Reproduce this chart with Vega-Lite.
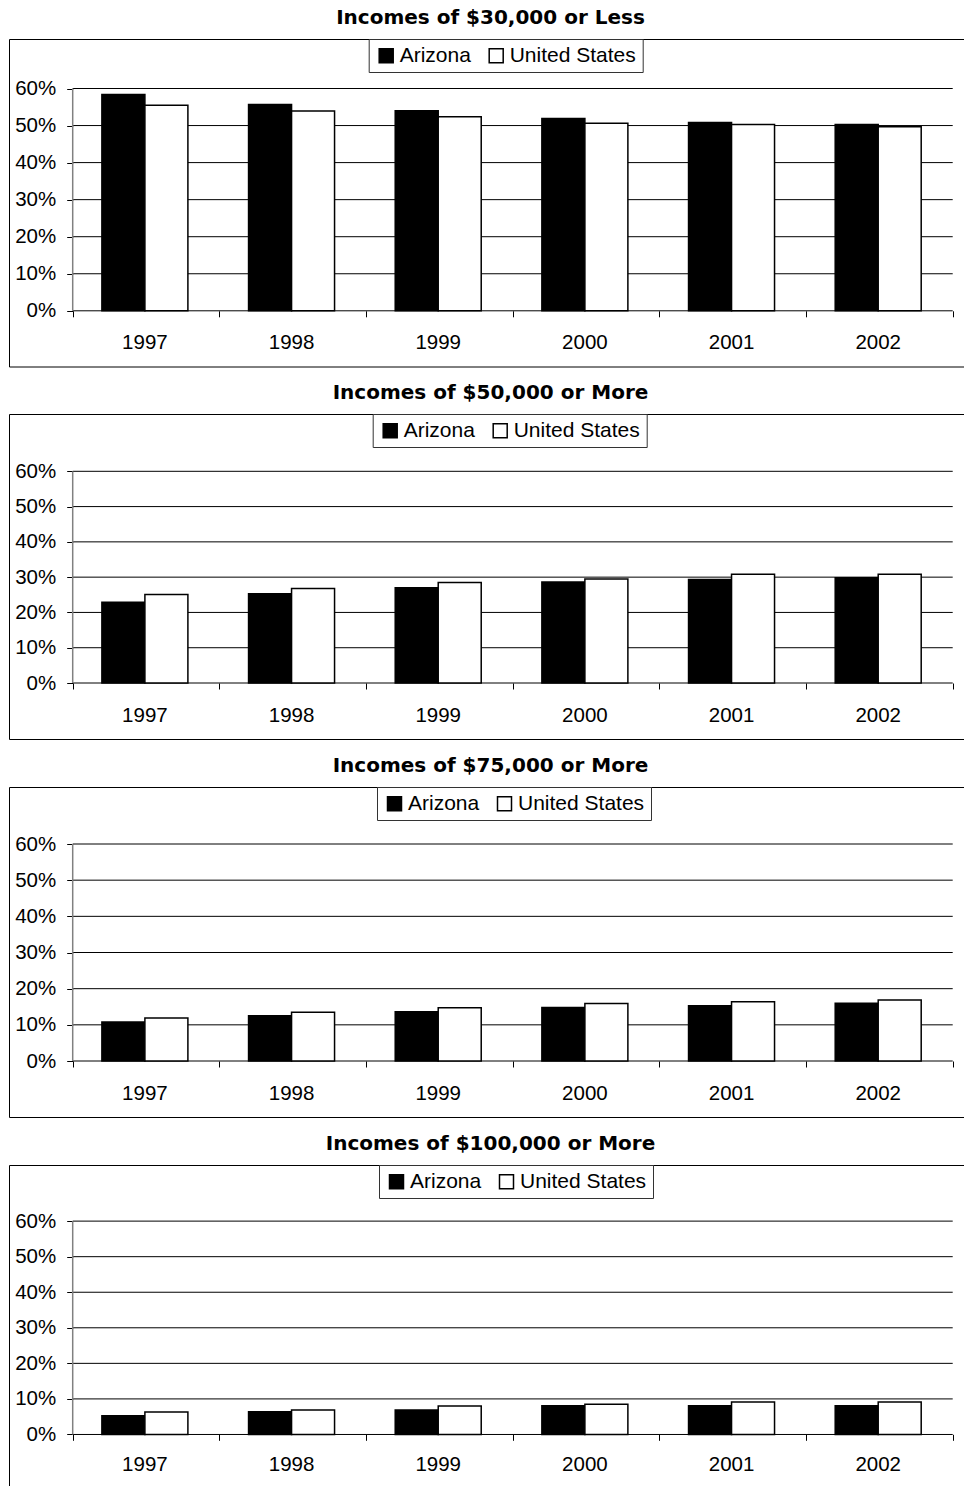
{
  "$schema": "https://vega.github.io/schema/vega-lite/v6.json",
  "padding": {"left": 8, "top": 7, "right": 0, "bottom": 0},
  "background": "white",
  "spacing": 15,
  "datasets": {
    "incomes": [
      {"panel": 1, "year": "1997", "series": "Arizona", "value": 0.584},
      {"panel": 1, "year": "1998", "series": "Arizona", "value": 0.557},
      {"panel": 1, "year": "1999", "series": "Arizona", "value": 0.540},
      {"panel": 1, "year": "2000", "series": "Arizona", "value": 0.519},
      {"panel": 1, "year": "2001", "series": "Arizona", "value": 0.508},
      {"panel": 1, "year": "2002", "series": "Arizona", "value": 0.503},
      {"panel": 1, "year": "1997", "series": "United States", "value": 0.555},
      {"panel": 1, "year": "1998", "series": "United States", "value": 0.539},
      {"panel": 1, "year": "1999", "series": "United States", "value": 0.524},
      {"panel": 1, "year": "2000", "series": "United States", "value": 0.506},
      {"panel": 1, "year": "2001", "series": "United States", "value": 0.503},
      {"panel": 1, "year": "2002", "series": "United States", "value": 0.497},
      {"panel": 2, "year": "1997", "series": "Arizona", "value": 0.229},
      {"panel": 2, "year": "1998", "series": "Arizona", "value": 0.253},
      {"panel": 2, "year": "1999", "series": "Arizona", "value": 0.270},
      {"panel": 2, "year": "2000", "series": "Arizona", "value": 0.286},
      {"panel": 2, "year": "2001", "series": "Arizona", "value": 0.293},
      {"panel": 2, "year": "2002", "series": "Arizona", "value": 0.298},
      {"panel": 2, "year": "1997", "series": "United States", "value": 0.251},
      {"panel": 2, "year": "1998", "series": "United States", "value": 0.268},
      {"panel": 2, "year": "1999", "series": "United States", "value": 0.285},
      {"panel": 2, "year": "2000", "series": "United States", "value": 0.295},
      {"panel": 2, "year": "2001", "series": "United States", "value": 0.308},
      {"panel": 2, "year": "2002", "series": "United States", "value": 0.308},
      {"panel": 3, "year": "1997", "series": "Arizona", "value": 0.108},
      {"panel": 3, "year": "1998", "series": "Arizona", "value": 0.125},
      {"panel": 3, "year": "1999", "series": "Arizona", "value": 0.136},
      {"panel": 3, "year": "2000", "series": "Arizona", "value": 0.148},
      {"panel": 3, "year": "2001", "series": "Arizona", "value": 0.153},
      {"panel": 3, "year": "2002", "series": "Arizona", "value": 0.160},
      {"panel": 3, "year": "1997", "series": "United States", "value": 0.119},
      {"panel": 3, "year": "1998", "series": "United States", "value": 0.135},
      {"panel": 3, "year": "1999", "series": "United States", "value": 0.147},
      {"panel": 3, "year": "2000", "series": "United States", "value": 0.159},
      {"panel": 3, "year": "2001", "series": "United States", "value": 0.164},
      {"panel": 3, "year": "2002", "series": "United States", "value": 0.169},
      {"panel": 4, "year": "1997", "series": "Arizona", "value": 0.053},
      {"panel": 4, "year": "1998", "series": "Arizona", "value": 0.064},
      {"panel": 4, "year": "1999", "series": "Arizona", "value": 0.069},
      {"panel": 4, "year": "2000", "series": "Arizona", "value": 0.081},
      {"panel": 4, "year": "2001", "series": "Arizona", "value": 0.081},
      {"panel": 4, "year": "2002", "series": "Arizona", "value": 0.081},
      {"panel": 4, "year": "1997", "series": "United States", "value": 0.063},
      {"panel": 4, "year": "1998", "series": "United States", "value": 0.069},
      {"panel": 4, "year": "1999", "series": "United States", "value": 0.080},
      {"panel": 4, "year": "2000", "series": "United States", "value": 0.085},
      {"panel": 4, "year": "2001", "series": "United States", "value": 0.091},
      {"panel": 4, "year": "2002", "series": "United States", "value": 0.091}
    ],
    "grid": [{"v": 0}, {"v": 0.1}, {"v": 0.2}, {"v": 0.3}, {"v": 0.4}, {"v": 0.5}, {"v": 0.6}]
  },
  "vconcat": [
    {
      "title": {"text": "Incomes of $30,000 or Less"},
      "width": 955,
      "height": 327.5,
      "layer": [
        {
          "data": {"name": "grid"},
          "mark": {"type": "rule", "color": "black", "strokeWidth": 1},
          "encoding": {
            "y": {"field": "v", "type": "quantitative", "scale": {"domain": [-0.1503, 0.7336], "nice": false, "zero": false}, "axis": {"orient": "left", "offset": -63.7, "values": [0, 0.1, 0.2, 0.3, 0.4, 0.5, 0.6], "format": ".0%", "domain": false, "grid": false, "ticks": true, "tickSize": 6, "tickColor": "black", "labelPadding": 11, "title": null}},
            "x": {"datum": 0, "type": "quantitative", "scale": {"domain": [-0.4343, 6.077], "nice": false, "zero": false}, "axis": {"orient": "bottom", "offset": -55.7, "values": [0, 1, 2, 3, 4, 5, 6], "labels": false, "domain": false, "grid": false, "ticks": true, "tickSize": 6, "tickColor": "black", "title": null}},
            "x2": {"datum": 6}
          }
        },
        {
          "data": {"name": "incomes"},
          "transform": [{"filter": "datum.panel == 1"}],
          "mark": {"type": "bar", "stroke": "black", "strokeWidth": 1.5},
          "encoding": {
            "x": {"field": "year", "type": "nominal", "scale": {"paddingInner": 0.4136, "paddingOuter": 0.4626, "align": 0.6846}, "axis": {"orient": "bottom", "offset": -55.7, "domain": false, "ticks": false, "tickSize": 0, "labelPadding": 22, "labelAngle": 0, "title": null, "grid": false}},
            "xOffset": {"field": "series", "type": "nominal", "sort": ["Arizona", "United States"], "scale": {"paddingInner": 0, "paddingOuter": 0}},
            "y": {"field": "value", "type": "quantitative", "scale": {"domain": [-0.1503, 0.7336], "nice": false, "zero": false}, "axis": {"orient": "left", "offset": -63.7, "values": [0, 0.1, 0.2, 0.3, 0.4, 0.5, 0.6], "format": ".0%", "domain": false, "grid": false, "ticks": true, "tickSize": 6, "tickColor": "black", "labelPadding": 11, "title": null}},
            "fill": {"field": "series", "type": "nominal", "scale": {"domain": ["Arizona", "United States"], "range": ["black", "white"]}, "legend": {"orient": "none", "legendX": 359.7, "legendY": 0}}
          }
        },
        {
          "data": {"values": [{}]},
          "mark": {"type": "rule", "color": "#808080", "strokeWidth": 1.5},
          "encoding": {
            "x": {"datum": 0, "type": "quantitative", "scale": {"domain": [-0.4343, 6.077], "nice": false, "zero": false}, "axis": null},
            "y": {"datum": 0, "type": "quantitative", "axis": {"orient": "left", "offset": -63.7, "values": [0, 0.1, 0.2, 0.3, 0.4, 0.5, 0.6], "format": ".0%", "domain": false, "grid": false, "ticks": true, "tickSize": 6, "tickColor": "black", "labelPadding": 11, "title": null}},
            "y2": {"datum": 0.6}
          }
        }
      ],
      "resolve": {"scale": {"x": "independent"}, "axis": {"x": "independent"}}
    },
    {
      "title": {"text": "Incomes of $50,000 or More"},
      "width": 955,
      "height": 325,
      "layer": [
        {
          "data": {"name": "grid"},
          "mark": {"type": "rule", "color": "black", "strokeWidth": 1},
          "encoding": {
            "y": {"field": "v", "type": "quantitative", "scale": {"domain": [-0.1587, 0.7624], "nice": false, "zero": false}, "axis": {"orient": "left", "offset": -63.7, "values": [0, 0.1, 0.2, 0.3, 0.4, 0.5, 0.6], "format": ".0%", "domain": false, "grid": false, "ticks": true, "tickSize": 6, "tickColor": "black", "labelPadding": 11, "title": null}},
            "x": {"datum": 0, "type": "quantitative", "scale": {"domain": [-0.4343, 6.077], "nice": false, "zero": false}, "axis": {"orient": "bottom", "offset": -56, "values": [0, 1, 2, 3, 4, 5, 6], "labels": false, "domain": false, "grid": false, "ticks": true, "tickSize": 6, "tickColor": "black", "title": null}},
            "x2": {"datum": 6}
          }
        },
        {
          "data": {"name": "incomes"},
          "transform": [{"filter": "datum.panel == 2"}],
          "mark": {"type": "bar", "stroke": "black", "strokeWidth": 1.5},
          "encoding": {
            "x": {"field": "year", "type": "nominal", "scale": {"paddingInner": 0.4136, "paddingOuter": 0.4626, "align": 0.6846}, "axis": {"orient": "bottom", "offset": -56, "domain": false, "ticks": false, "tickSize": 0, "labelPadding": 22, "labelAngle": 0, "title": null, "grid": false}},
            "xOffset": {"field": "series", "type": "nominal", "sort": ["Arizona", "United States"], "scale": {"paddingInner": 0, "paddingOuter": 0}},
            "y": {"field": "value", "type": "quantitative", "scale": {"domain": [-0.1587, 0.7624], "nice": false, "zero": false}, "axis": {"orient": "left", "offset": -63.7, "values": [0, 0.1, 0.2, 0.3, 0.4, 0.5, 0.6], "format": ".0%", "domain": false, "grid": false, "ticks": true, "tickSize": 6, "tickColor": "black", "labelPadding": 11, "title": null}},
            "fill": {"field": "series", "type": "nominal", "scale": {"domain": ["Arizona", "United States"], "range": ["black", "white"]}, "legend": {"orient": "none", "legendX": 363.7, "legendY": 0}}
          }
        },
        {
          "data": {"values": [{}]},
          "mark": {"type": "rule", "color": "#808080", "strokeWidth": 1.5},
          "encoding": {
            "x": {"datum": 0, "type": "quantitative", "scale": {"domain": [-0.4343, 6.077], "nice": false, "zero": false}, "axis": null},
            "y": {"datum": 0, "type": "quantitative", "axis": {"orient": "left", "offset": -63.7, "values": [0, 0.1, 0.2, 0.3, 0.4, 0.5, 0.6], "format": ".0%", "domain": false, "grid": false, "ticks": true, "tickSize": 6, "tickColor": "black", "labelPadding": 11, "title": null}},
            "y2": {"datum": 0.6}
          }
        }
      ],
      "resolve": {"scale": {"x": "independent"}, "axis": {"x": "independent"}}
    },
    {
      "title": {"text": "Incomes of $75,000 or More"},
      "width": 955,
      "height": 330,
      "layer": [
        {
          "data": {"name": "grid"},
          "mark": {"type": "rule", "color": "black", "strokeWidth": 1},
          "encoding": {
            "y": {"field": "v", "type": "quantitative", "scale": {"domain": [-0.1548, 0.7576], "nice": false, "zero": false}, "axis": {"orient": "left", "offset": -63.7, "values": [0, 0.1, 0.2, 0.3, 0.4, 0.5, 0.6], "format": ".0%", "domain": false, "grid": false, "ticks": true, "tickSize": 6, "tickColor": "black", "labelPadding": 11, "title": null}},
            "x": {"datum": 0, "type": "quantitative", "scale": {"domain": [-0.4343, 6.077], "nice": false, "zero": false}, "axis": {"orient": "bottom", "offset": -56, "values": [0, 1, 2, 3, 4, 5, 6], "labels": false, "domain": false, "grid": false, "ticks": true, "tickSize": 6, "tickColor": "black", "title": null}},
            "x2": {"datum": 6}
          }
        },
        {
          "data": {"name": "incomes"},
          "transform": [{"filter": "datum.panel == 3"}],
          "mark": {"type": "bar", "stroke": "black", "strokeWidth": 1.5},
          "encoding": {
            "x": {"field": "year", "type": "nominal", "scale": {"paddingInner": 0.4136, "paddingOuter": 0.4626, "align": 0.6846}, "axis": {"orient": "bottom", "offset": -56, "domain": false, "ticks": false, "tickSize": 0, "labelPadding": 22, "labelAngle": 0, "title": null, "grid": false}},
            "xOffset": {"field": "series", "type": "nominal", "sort": ["Arizona", "United States"], "scale": {"paddingInner": 0, "paddingOuter": 0}},
            "y": {"field": "value", "type": "quantitative", "scale": {"domain": [-0.1548, 0.7576], "nice": false, "zero": false}, "axis": {"orient": "left", "offset": -63.7, "values": [0, 0.1, 0.2, 0.3, 0.4, 0.5, 0.6], "format": ".0%", "domain": false, "grid": false, "ticks": true, "tickSize": 6, "tickColor": "black", "labelPadding": 11, "title": null}},
            "fill": {"field": "series", "type": "nominal", "scale": {"domain": ["Arizona", "United States"], "range": ["black", "white"]}, "legend": {"orient": "none", "legendX": 368, "legendY": 0}}
          }
        },
        {
          "data": {"values": [{}]},
          "mark": {"type": "rule", "color": "#808080", "strokeWidth": 1.5},
          "encoding": {
            "x": {"datum": 0, "type": "quantitative", "scale": {"domain": [-0.4343, 6.077], "nice": false, "zero": false}, "axis": null},
            "y": {"datum": 0, "type": "quantitative", "axis": {"orient": "left", "offset": -63.7, "values": [0, 0.1, 0.2, 0.3, 0.4, 0.5, 0.6], "format": ".0%", "domain": false, "grid": false, "ticks": true, "tickSize": 6, "tickColor": "black", "labelPadding": 11, "title": null}},
            "y2": {"datum": 0.6}
          }
        }
      ],
      "resolve": {"scale": {"x": "independent"}, "axis": {"x": "independent"}}
    },
    {
      "title": {"text": "Incomes of $100,000 or More"},
      "width": 955,
      "height": 322,
      "layer": [
        {
          "data": {"name": "grid"},
          "mark": {"type": "rule", "color": "black", "strokeWidth": 1},
          "encoding": {
            "y": {"field": "v", "type": "quantitative", "scale": {"domain": [-0.1477, 0.7578], "nice": false, "zero": false}, "axis": {"orient": "left", "offset": -63.7, "values": [0, 0.1, 0.2, 0.3, 0.4, 0.5, 0.6], "format": ".0%", "domain": false, "grid": false, "ticks": true, "tickSize": 6, "tickColor": "black", "labelPadding": 11, "title": null}},
            "x": {"datum": 0, "type": "quantitative", "scale": {"domain": [-0.4343, 6.077], "nice": false, "zero": false}, "axis": {"orient": "bottom", "offset": -52.7, "values": [0, 1, 2, 3, 4, 5, 6], "labels": false, "domain": false, "grid": false, "ticks": true, "tickSize": 6, "tickColor": "black", "title": null}},
            "x2": {"datum": 6}
          }
        },
        {
          "data": {"name": "incomes"},
          "transform": [{"filter": "datum.panel == 4"}],
          "mark": {"type": "bar", "stroke": "black", "strokeWidth": 1.5},
          "encoding": {
            "x": {"field": "year", "type": "nominal", "scale": {"paddingInner": 0.4136, "paddingOuter": 0.4626, "align": 0.6846}, "axis": {"orient": "bottom", "offset": -52.7, "domain": false, "ticks": false, "tickSize": 0, "labelPadding": 20, "labelAngle": 0, "title": null, "grid": false}},
            "xOffset": {"field": "series", "type": "nominal", "sort": ["Arizona", "United States"], "scale": {"paddingInner": 0, "paddingOuter": 0}},
            "y": {"field": "value", "type": "quantitative", "scale": {"domain": [-0.1477, 0.7578], "nice": false, "zero": false}, "axis": {"orient": "left", "offset": -63.7, "values": [0, 0.1, 0.2, 0.3, 0.4, 0.5, 0.6], "format": ".0%", "domain": false, "grid": false, "ticks": true, "tickSize": 6, "tickColor": "black", "labelPadding": 11, "title": null}},
            "fill": {"field": "series", "type": "nominal", "scale": {"domain": ["Arizona", "United States"], "range": ["black", "white"]}, "legend": {"orient": "none", "legendX": 370, "legendY": 0}}
          }
        },
        {
          "data": {"values": [{}]},
          "mark": {"type": "rule", "color": "#808080", "strokeWidth": 1.5},
          "encoding": {
            "x": {"datum": 0, "type": "quantitative", "scale": {"domain": [-0.4343, 6.077], "nice": false, "zero": false}, "axis": null},
            "y": {"datum": 0, "type": "quantitative", "axis": {"orient": "left", "offset": -63.7, "values": [0, 0.1, 0.2, 0.3, 0.4, 0.5, 0.6], "format": ".0%", "domain": false, "grid": false, "ticks": true, "tickSize": 6, "tickColor": "black", "labelPadding": 11, "title": null}},
            "y2": {"datum": 0.6}
          }
        }
      ],
      "resolve": {"scale": {"x": "independent"}, "axis": {"x": "independent"}}
    }
  ],
  "resolve": {
    "scale": {"x": "independent", "y": "independent", "fill": "independent"},
    "axis": {"x": "independent", "y": "independent"},
    "legend": {"fill": "independent"}
  },
  "config": {
    "view": {"stroke": "black", "strokeWidth": 1},
    "axis": {"labelFont": "Liberation Sans", "labelFontSize": 20.5, "labelColor": "black", "labelOverlap": false, "labelFlush": false},
    "title": {"font": "DejaVu Sans", "fontSize": 20, "fontWeight": "bold", "color": "black", "baseline": "alphabetic", "offset": 11, "anchor": "middle", "dx": 4},
    "legend": {
      "direction": "horizontal",
      "title": null,
      "symbolType": "square",
      "symbolSize": 196,
      "symbolStrokeColor": "black",
      "symbolStrokeWidth": 1.5,
      "labelFont": "Liberation Sans",
      "labelFontSize": 21,
      "labelColor": "black",
      "labelOffset": 3,
      "columnPadding": 13,
      "padding": 6,
      "symbolOffset": 1,
      "strokeColor": "#333",
      "fillColor": "white"
    }
  }
}
